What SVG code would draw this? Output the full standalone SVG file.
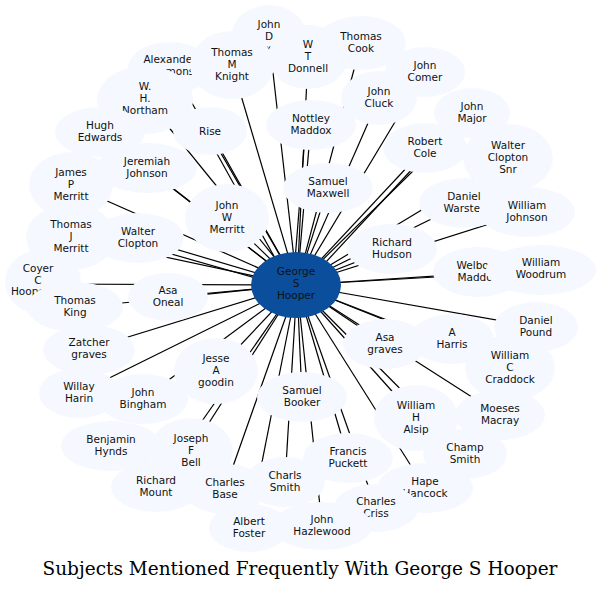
<svg xmlns="http://www.w3.org/2000/svg" width="600" height="590" viewBox="0 0 600 590">
<style>
.n ellipse{fill:#f5f9ff;stroke:none}
.n text{font-family:"DejaVu Sans",sans-serif;font-size:10.5px;text-anchor:middle;fill:#111}
#edges line{stroke:#000;stroke-width:1.2}
.t{font-family:"DejaVu Serif",serif;font-size:18.5px;text-anchor:middle;fill:#000}
</style>
<rect width="600" height="590" fill="#fff"/>
<g id="edges">
<line x1="297" y1="285" x2="269" y2="37"/><line x1="297" y1="285" x2="361" y2="43"/><line x1="297" y1="285" x2="308" y2="57"/>
<line x1="297" y1="285" x2="170" y2="65"/><line x1="297" y1="285" x2="232" y2="65"/><line x1="297" y1="285" x2="425" y2="72"/>
<line x1="297" y1="285" x2="145" y2="98"/><line x1="297" y1="285" x2="379" y2="98"/><line x1="297" y1="285" x2="472" y2="113"/>
<line x1="297" y1="285" x2="100" y2="132"/><line x1="297" y1="285" x2="210" y2="131"/><line x1="290" y1="285" x2="206" y2="134"/>
<line x1="297" y1="285" x2="311" y2="124"/><line x1="293" y1="285" x2="306" y2="124"/><line x1="297" y1="285" x2="425" y2="148"/><line x1="300" y1="290" x2="428" y2="152"/>
<line x1="297" y1="285" x2="508" y2="158"/><line x1="297" y1="285" x2="147" y2="168"/><line x1="297" y1="285" x2="71" y2="185"/>
<line x1="297" y1="285" x2="328" y2="187"/><line x1="297" y1="285" x2="464" y2="203"/><line x1="297" y1="285" x2="527" y2="212"/>
<line x1="297" y1="285" x2="227" y2="217"/><line x1="297" y1="285" x2="71" y2="237"/><line x1="297" y1="285" x2="138" y2="238"/><line x1="297" y1="290" x2="140" y2="245"/>
<line x1="297" y1="285" x2="392" y2="248"/><line x1="297" y1="285" x2="43" y2="284"/><line x1="297" y1="285" x2="488" y2="274"/>
<line x1="297" y1="285" x2="541" y2="269"/><line x1="297" y1="285" x2="168" y2="297"/><line x1="297" y1="285" x2="122" y2="303"/>
<line x1="297" y1="285" x2="536" y2="327"/><line x1="297" y1="285" x2="465" y2="352"/><line x1="297" y1="285" x2="385" y2="344"/>
<line x1="297" y1="285" x2="89" y2="349"/><line x1="297" y1="285" x2="510" y2="368"/><line x1="297" y1="285" x2="216" y2="371"/>
<line x1="297" y1="285" x2="302" y2="397"/><line x1="297" y1="285" x2="79" y2="393"/><line x1="297" y1="285" x2="143" y2="399"/>
<line x1="297" y1="285" x2="416" y2="418"/><line x1="297" y1="285" x2="500" y2="415"/><line x1="297" y1="285" x2="191" y2="451"/>
<line x1="297" y1="285" x2="348" y2="458"/><line x1="297" y1="285" x2="156" y2="487"/><line x1="297" y1="285" x2="225" y2="489"/>
<line x1="297" y1="285" x2="285" y2="482"/><line x1="297" y1="285" x2="425" y2="488"/><line x1="297" y1="285" x2="376" y2="508"/>
<line x1="297" y1="285" x2="249" y2="528"/><line x1="297" y1="285" x2="322" y2="526"/><line x1="297" y1="285" x2="465" y2="454"/>
</g>
<g id="n1" class="n"><ellipse cx="269" cy="37" rx="38" ry="32"/><text x="269" y="28">John<tspan x="269" dy="12">D</tspan><tspan x="269" dy="12">Baxter</tspan></text></g>
<g id="n2" class="n"><ellipse cx="170" cy="68" rx="42" ry="26"/><text x="170" y="63">Alexander<tspan x="170" dy="12">Simmons</tspan></text></g>
<g id="n3" class="n"><ellipse cx="308" cy="57" rx="40" ry="32"/><text x="308" y="48">W<tspan x="308" dy="12">T</tspan><tspan x="308" dy="12">Donnell</tspan></text></g>
<g id="n4" class="n"><ellipse cx="361" cy="43" rx="45" ry="27"/><text x="361" y="40">Thomas<tspan x="361" dy="12">Cook</tspan></text></g>
<g id="n5" class="n"><ellipse cx="232" cy="65" rx="42" ry="34"/><text x="232" y="56">Thomas<tspan x="232" dy="12">M</tspan><tspan x="232" dy="12">Knight</tspan></text></g>
<g id="n6" class="n"><ellipse cx="425" cy="72" rx="40" ry="25"/><text x="425" y="69">John<tspan x="425" dy="12">Comer</tspan></text></g>
<g id="n7" class="n"><ellipse cx="145" cy="100" rx="48" ry="34"/><text x="145" y="90">W.<tspan x="145" dy="12">H.</tspan><tspan x="145" dy="12">Northam</tspan></text></g>
<g id="n8" class="n"><ellipse cx="379" cy="98" rx="38" ry="27"/><text x="379" y="95">John<tspan x="379" dy="12">Cluck</tspan></text></g>
<g id="n9" class="n"><ellipse cx="472" cy="113" rx="38" ry="25"/><text x="472" y="110">John<tspan x="472" dy="12">Major</tspan></text></g>
<g id="n10" class="n"><ellipse cx="100" cy="132" rx="45" ry="25"/><text x="100" y="129">Hugh<tspan x="100" dy="12">Edwards</tspan></text></g>
<g id="n11" class="n"><ellipse cx="210" cy="131" rx="37" ry="24"/><text x="210" y="135">Rise</text></g>
<g id="n12" class="n"><ellipse cx="311" cy="125" rx="45" ry="25"/><text x="311" y="122">Nottley<tspan x="311" dy="12">Maddox</tspan></text></g>
<g id="n13" class="n"><ellipse cx="425" cy="148" rx="42" ry="25"/><text x="425" y="145">Robert<tspan x="425" dy="12">Cole</tspan></text></g>
<g id="n14" class="n"><ellipse cx="508" cy="158" rx="45" ry="34"/><text x="508" y="149">Walter<tspan x="508" dy="12">Clopton</tspan><tspan x="508" dy="12">Snr</tspan></text></g>
<g id="n15" class="n"><ellipse cx="147" cy="168" rx="50" ry="25"/><text x="147" y="165">Jeremiah<tspan x="147" dy="12">Johnson</tspan></text></g>
<g id="n16" class="n"><ellipse cx="71" cy="185" rx="42" ry="33"/><text x="71" y="176">James<tspan x="71" dy="12">P</tspan><tspan x="71" dy="12">Merritt</tspan></text></g>
<g id="n17" class="n"><ellipse cx="328" cy="188" rx="45" ry="25"/><text x="328" y="185">Samuel<tspan x="328" dy="12">Maxwell</tspan></text></g>
<g id="n18" class="n"><ellipse cx="464" cy="203" rx="45" ry="25"/><text x="464" y="200">Daniel<tspan x="464" dy="12">Warster</tspan></text></g>
<g id="n19" class="n"><ellipse cx="527" cy="212" rx="48" ry="25"/><text x="527" y="209">William<tspan x="527" dy="12">Johnson</tspan></text></g>
<g id="n20" class="n"><ellipse cx="227" cy="218" rx="42" ry="34"/><text x="227" y="209">John<tspan x="227" dy="12">W</tspan><tspan x="227" dy="12">Merritt</tspan></text></g>
<g id="n21" class="n"><ellipse cx="71" cy="237" rx="45" ry="33"/><text x="71" y="228">Thomas<tspan x="71" dy="12">J</tspan><tspan x="71" dy="12">Merritt</tspan></text></g>
<g id="n22" class="n"><ellipse cx="138" cy="238" rx="46" ry="25"/><text x="138" y="235">Walter<tspan x="138" dy="12">Clopton</tspan></text></g>
<g id="n23" class="n"><ellipse cx="392" cy="249" rx="45" ry="25"/><text x="392" y="246">Richard<tspan x="392" dy="12">Hudson</tspan></text></g>
<g id="n24" class="n"><ellipse cx="43" cy="282" rx="38" ry="33"/><text x="38" y="272">Coyer<tspan x="38" dy="12">C</tspan><tspan x="30" dy="11">Hooper</tspan></text></g>
<g id="n25" class="n"><ellipse cx="478" cy="272" rx="45" ry="25"/><text x="478" y="269">Welborn<tspan x="478" dy="12">Maddox</tspan></text></g>
<g id="n26" class="n"><ellipse cx="541" cy="270" rx="55" ry="25"/><text x="541" y="266">William<tspan x="541" dy="12">Woodrum</tspan></text></g>
<g id="n27" class="n"><ellipse cx="168" cy="297" rx="40" ry="24"/><text x="168" y="294">Asa<tspan x="168" dy="12">Oneal</tspan></text></g>
<g id="n28" class="n"><ellipse cx="75" cy="307" rx="48" ry="25"/><text x="75" y="304">Thomas<tspan x="75" dy="12">King</tspan></text></g>
<g id="n29" class="n"><ellipse cx="536" cy="327" rx="42" ry="25"/><text x="536" y="324">Daniel<tspan x="536" dy="12">Pound</tspan></text></g>
<g id="n30" class="n"><ellipse cx="452" cy="339" rx="42" ry="25"/><text x="452" y="336">A<tspan x="452" dy="12">Harris</tspan></text></g>
<g id="n31" class="n"><ellipse cx="385" cy="344" rx="42" ry="25"/><text x="385" y="341">Asa<tspan x="385" dy="12">graves</tspan></text></g>
<g id="n32" class="n"><ellipse cx="89" cy="350" rx="46" ry="25"/><text x="89" y="346">Zatcher<tspan x="89" dy="12">graves</tspan></text></g>
<g id="n33" class="n"><ellipse cx="510" cy="368" rx="45" ry="33"/><text x="510" y="359">William<tspan x="510" dy="12">C</tspan><tspan x="510" dy="12">Craddock</tspan></text></g>
<g id="n34" class="n"><ellipse cx="216" cy="371" rx="42" ry="33"/><text x="216" y="362">Jesse<tspan x="216" dy="12">A</tspan><tspan x="216" dy="12">goodin</tspan></text></g>
<g id="n35" class="n"><ellipse cx="79" cy="393" rx="40" ry="25"/><text x="79" y="390">Willay<tspan x="79" dy="12">Harin</tspan></text></g>
<g id="n36" class="n"><ellipse cx="302" cy="397" rx="45" ry="25"/><text x="302" y="394">Samuel<tspan x="302" dy="12">Booker</tspan></text></g>
<g id="n37" class="n"><ellipse cx="143" cy="399" rx="45" ry="25"/><text x="143" y="396">John<tspan x="143" dy="12">Bingham</tspan></text></g>
<g id="n38" class="n"><ellipse cx="500" cy="415" rx="45" ry="25"/><text x="500" y="412">Moeses<tspan x="500" dy="12">Macray</tspan></text></g>
<g id="n39" class="n"><ellipse cx="416" cy="418" rx="42" ry="33"/><text x="416" y="409">William<tspan x="416" dy="12">H</tspan><tspan x="416" dy="12">Alsip</tspan></text></g>
<g id="n40" class="n"><ellipse cx="111" cy="446" rx="50" ry="25"/><text x="111" y="443">Benjamin<tspan x="111" dy="12">Hynds</tspan></text></g>
<g id="n41" class="n"><ellipse cx="191" cy="451" rx="42" ry="33"/><text x="191" y="442">Joseph<tspan x="191" dy="12">F</tspan><tspan x="191" dy="12">Bell</tspan></text></g>
<g id="n42" class="n"><ellipse cx="465" cy="454" rx="42" ry="25"/><text x="465" y="451">Champ<tspan x="465" dy="12">Smith</tspan></text></g>
<g id="n43" class="n"><ellipse cx="348" cy="458" rx="45" ry="25"/><text x="348" y="455">Francis<tspan x="348" dy="12">Puckett</tspan></text></g>
<g id="n44" class="n"><ellipse cx="156" cy="487" rx="45" ry="25"/><text x="156" y="484">Richard<tspan x="156" dy="12">Mount</tspan></text></g>
<g id="n45" class="n"><ellipse cx="225" cy="489" rx="42" ry="25"/><text x="225" y="486">Charles<tspan x="225" dy="12">Base</tspan></text></g>
<g id="n46" class="n"><ellipse cx="425" cy="488" rx="48" ry="25"/><text x="425" y="485">Hape<tspan x="425" dy="12">Hancock</tspan></text></g>
<g id="n47" class="n"><ellipse cx="285" cy="482" rx="40" ry="25"/><text x="285" y="479">Charls<tspan x="285" dy="12">Smith</tspan></text></g>
<g id="n48" class="n"><ellipse cx="376" cy="508" rx="42" ry="24"/><text x="376" y="505">Charles<tspan x="376" dy="12">Criss</tspan></text></g>
<g id="n49" class="n"><ellipse cx="249" cy="528" rx="40" ry="24"/><text x="249" y="525">Albert<tspan x="249" dy="12">Foster</tspan></text></g>
<g id="n50" class="n"><ellipse cx="322" cy="526" rx="50" ry="24"/><text x="322" y="523">John<tspan x="322" dy="12">Hazlewood</tspan></text></g>
<g id="hub"><ellipse cx="296" cy="285" rx="45" ry="33" fill="#0b4f9c"/><text x="296" y="275" style="font-family:'DejaVu Sans',sans-serif;font-size:10.5px;text-anchor:middle;fill:#111">George<tspan x="296" dy="12">S</tspan><tspan x="296" dy="12">Hooper</tspan></text></g>
<text class="t" x="300" y="575">Subjects Mentioned Frequently With George S Hooper</text>
</svg>
